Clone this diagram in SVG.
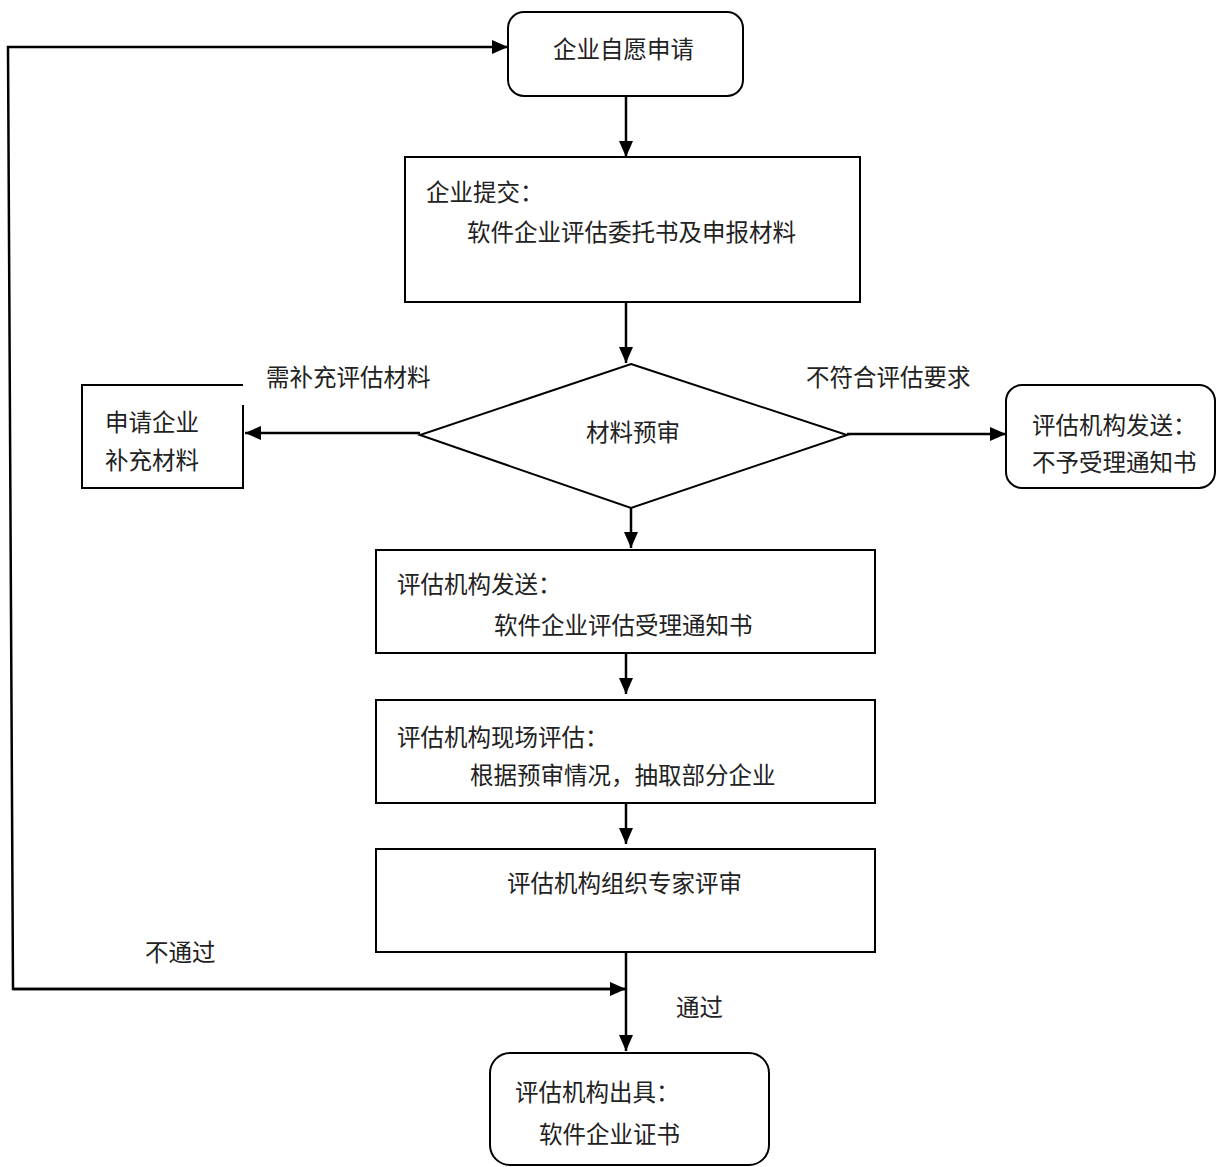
<svg xmlns="http://www.w3.org/2000/svg" width="1217" height="1167" viewBox="0 0 1217 1167">
<defs>
<marker id="ah" markerUnits="userSpaceOnUse" markerWidth="16" markerHeight="14" refX="16" refY="7" orient="auto" viewBox="0 0 16 14">
<path d="M0,0 L16,7 L0,14 Z" fill="#000"/>
</marker>
<style>
.box{fill:#fff;stroke:#000;stroke-width:2}
.t{font-family:"Noto Sans CJK SC","Liberation Sans",sans-serif;font-size:23.5px;fill:#222}
.c{fill:none;stroke:#000;stroke-width:2.5}
.ca{fill:none;stroke:#000;stroke-width:2.5;marker-end:url(#ah)}
</style>
</defs>
<rect width="1217" height="1167" fill="#fff"/>
<g id="connectors">
<line class="ca" x1="626" y1="96" x2="626" y2="157"/>
<line class="ca" x1="626" y1="302" x2="626" y2="363"/>
<line class="ca" x1="420" y1="433" x2="245" y2="433"/>
<line class="ca" x1="847" y1="434" x2="1006" y2="434"/>
<line class="ca" x1="631" y1="508" x2="631" y2="548"/>
<line class="ca" x1="626" y1="653" x2="626" y2="694"/>
<line class="ca" x1="626" y1="803" x2="626" y2="844"/>
<line class="ca" x1="626" y1="952" x2="626" y2="1051"/>
<polyline class="ca" points="626,989 13,989 8,47 508,47"/>
<line class="ca" x1="13" y1="989" x2="626" y2="989"/>
</g>
<g id="n1">
<rect class="box" x="508" y="12" width="235" height="84" rx="16"/>
<text class="t" x="553" y="58">企业自愿申请</text>
</g>
<g id="n2">
<rect class="box" x="405" y="157" width="455" height="145"/>
<text class="t" x="426" y="201">企业提交：</text>
<text class="t" x="467" y="241">软件企业评估委托书及申报材料</text>
</g>
<g id="n3">
<polygon class="box" points="631,364 847,435 631,508 420,435"/>
<text class="t" x="586" y="441">材料预审</text>
</g>
<g id="n4">
<path d="M243,405 V488 H82 V385 H243" fill="#fff" stroke="#000" stroke-width="2"/>
<text class="t" x="105" y="431">申请企业</text>
<text class="t" x="105" y="469">补充材料</text>
</g>
<g id="n5">
<rect class="box" x="1006" y="385" width="209" height="103" rx="16"/>
<text class="t" x="1032" y="434">评估机构发送：</text>
<text class="t" x="1032" y="471">不予受理通知书</text>
</g>
<g id="n6">
<rect class="box" x="376" y="550" width="499" height="103"/>
<text class="t" x="397" y="593">评估机构发送：</text>
<text class="t" x="494" y="634">软件企业评估受理通知书</text>
</g>
<g id="n7">
<rect class="box" x="376" y="700" width="499" height="103"/>
<text class="t" x="397" y="746">评估机构现场评估：</text>
<text class="t" x="470" y="784">根据预审情况，抽取部分企业</text>
</g>
<g id="n8">
<rect class="box" x="376" y="849" width="499" height="103"/>
<text class="t" x="507" y="892">评估机构组织专家评审</text>
</g>
<g id="n9">
<rect class="box" x="490" y="1053" width="279" height="112" rx="20"/>
<text class="t" x="515" y="1101">评估机构出具：</text>
<text class="t" x="539" y="1143">软件企业证书</text>
</g>
<g id="labels">
<text class="t" x="266" y="386">需补充评估材料</text>
<text class="t" x="806" y="386">不符合评估要求</text>
<text class="t" x="145" y="961">不通过</text>
<text class="t" x="676" y="1016">通过</text>
</g>
</svg>
